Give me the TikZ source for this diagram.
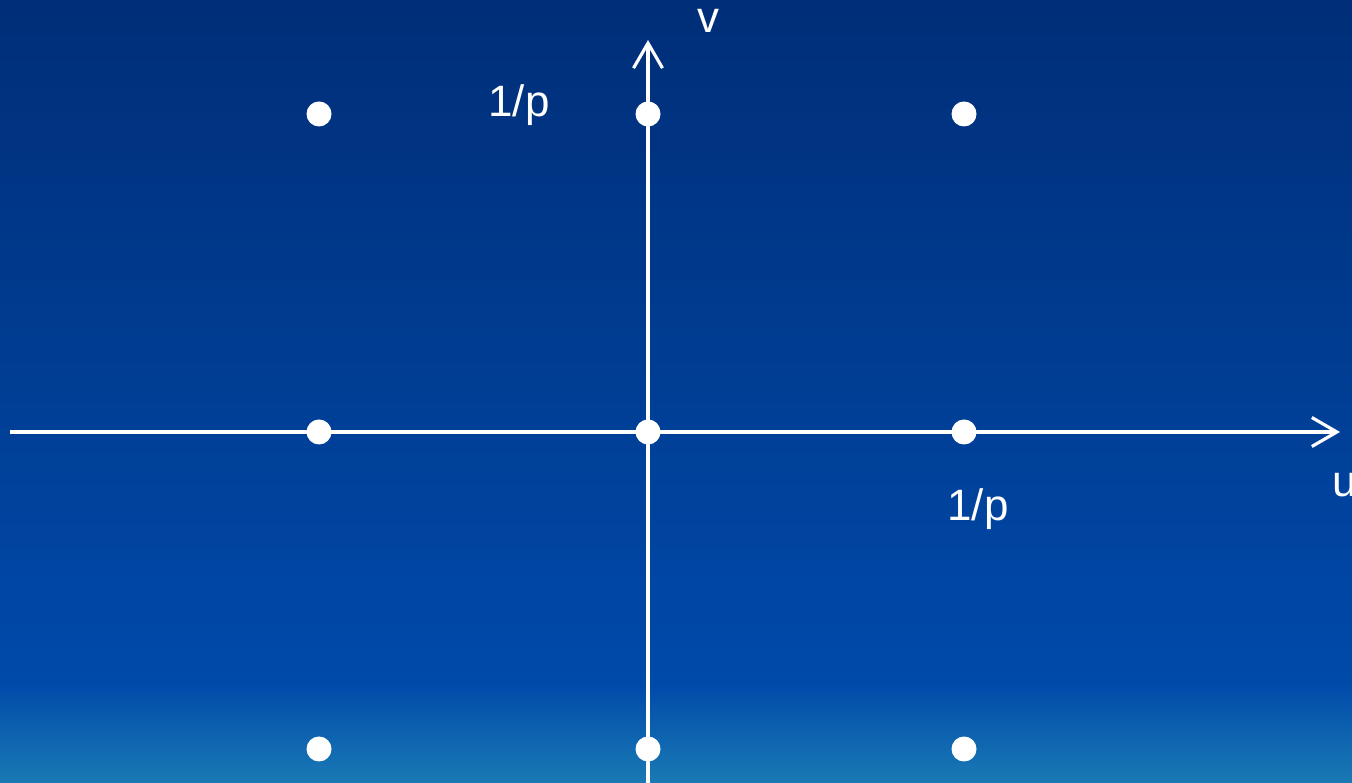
\documentclass[tikz,border=0pt]{standalone}
\usepackage{fontspec}
\setmainfont{Liberation Sans}
\usetikzlibrary{arrows.meta,positioning,calc}

\definecolor{bgtop}{RGB}{0,46,120}
\definecolor{bgmid}{RGB}{0,74,170}
\definecolor{bgbot}{RGB}{26,122,180}

\begin{document}
\begin{tikzpicture}[
  >={Straight Barb[length=2.5mm,width=2.9mm,line width=0.9pt]},
  every node/.style={font=\fontsize{12.5}{15}\selectfont, text=white},
  latticept/.style={circle, fill=white, inner sep=0pt, minimum size=0.25cm},
  axisline/.style={white, line width=0.9pt}
]
  \useasboundingbox (0,0) rectangle (13.52,7.83);
  \shade[top color=bgtop, bottom color=bgmid] (0,1.0) rectangle (13.52,7.83);
  \shade[top color=bgmid, bottom color=bgbot] (0,0) rectangle (13.52,1.0);

  \coordinate (uwest) at (0.10,3.51);
  \coordinate (ueast) at (13.40,3.51);
  \coordinate (vsouth) at (6.48,0);
  \coordinate (vnorth) at (6.48,7.43);

  \draw[axisline, ->] (uwest) -- (ueast);
  \draw[axisline, ->] (vsouth) -- (vnorth);

  \node[latticept] (p00) at (6.48,3.51) {};
  \node[latticept] (pw0) at (3.19,3.51) {};
  \node[latticept] (pe0) at (9.64,3.51) {};
  \node[latticept] (p0n) at (6.48,6.69) {};
  \node[latticept] (pwn) at (3.19,6.69) {};
  \node[latticept] (pen) at (9.64,6.69) {};
  \node[latticept] (p0s) at (6.48,0.34) {};
  \node[latticept] (pws) at (3.19,0.34) {};
  \node[latticept] (pes) at (9.64,0.34) {};

  \node[anchor=base] (vlabel) at (7.08,7.50) {v};
  \node[anchor=base] (ulabel) at (13.45,2.86) {u};
  \node[anchor=base] (vtick) at (5.19,6.66) {1/p};
  \node[anchor=base] (utick) at (9.78,2.62) {1/p};
\end{tikzpicture}
\end{document}
